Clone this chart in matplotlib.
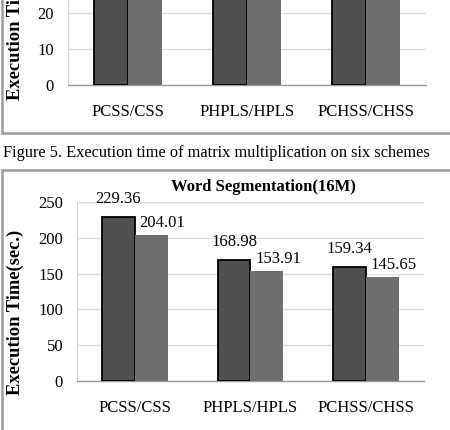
import matplotlib.pyplot as plt
from matplotlib.lines import Line2D

plt.rcParams['font.family'] = ['Liberation Serif', 'DejaVu Serif']

# data
schemes = ['PCSS/CSS', 'PHPLS/HPLS', 'PCHSS/CHSS']
mm_parallel = [27.5, 27.8, 27.2]      # matrix multiplication (cut off at top)
mm_serial = [26.9, 27.1, 26.6]
ws_parallel = [229.36, 168.98, 159.34]  # word segmentation 16M
ws_serial = [204.01, 153.91, 145.65]

W, H = 450, 430
fig = plt.figure(figsize=(W / 100, H / 100), dpi=100)
FS = 12


def px_axes(left, right, y0, px_per_unit, ymax):
    # y0 = pixel row of value 0, measured from top
    h = ymax * px_per_unit
    return fig.add_axes([left / W, (H - y0) / H, (right - left) / W, h / H])


def draw_bars(ax, a, b, ymax, step):
    x = range(len(schemes))
    bw = 0.285
    ax.bar([i - bw / 2 for i in x], a, bw, color='#505050', edgecolor='black',
           linewidth=1.3, zorder=3)
    ax.bar([i + bw / 2 for i in x], b, bw, color='#6f6f6f', linewidth=0, zorder=3)
    ax.set_xlim(-0.5, len(schemes) - 0.5)
    ax.set_ylim(0, ymax)
    ax.set_yticks(range(0, int(ymax) + 1, step))
    ax.set_xticks(list(x))
    ax.set_xticklabels(schemes, fontsize=FS)
    ax.tick_params(axis='both', length=0, labelsize=FS)
    ax.tick_params(axis='x', pad=14)
    ax.tick_params(axis='y', pad=10)
    ax.grid(axis='y', color='#dcdcdc', linewidth=0.9, zorder=0)
    for s in ['top', 'right']:
        ax.spines[s].set_visible(False)
    ax.spines['left'].set_color('#d0d0d0')
    ax.spines['bottom'].set_color('#9a9a9a')
    ax.spines['bottom'].set_linewidth(1.0)


# top chart (matrix multiplication, cropped)
ax1 = px_axes(68, 426, 85, 3.6, 30)
draw_bars(ax1, mm_parallel, mm_serial, 30, 10)
fig.text(15 / W, 1 - 17 / H, 'Execution Time(sec.)', rotation=90, fontsize=13.3,
         fontweight='bold', ha='center', va='center')

# caption
fig.text(3 / W, 1 - 153 / H,
         'Figure 5. Execution time of matrix multiplication on six schemes',
         fontsize=11.8, ha='left', va='center')

# bottom chart (word segmentation)
ax2 = px_axes(77, 424, 381, 0.716, 250)
draw_bars(ax2, ws_parallel, ws_serial, 250, 50)
fig.text(263 / W, 1 - 187 / H, 'Word Segmentation(16M)', fontsize=12,
         fontweight='bold', ha='center', va='center')
fig.text(15 / W, 1 - 312 / H, 'Execution Time(sec.)', rotation=90, fontsize=13.3,
         fontweight='bold', ha='center', va='center')
for i, (a, b) in enumerate(zip(ws_parallel, ws_serial)):
    ax2.annotate(f'{a:.2f}', (i - 0.1425, a), xytext=(0, 18),
                 textcoords='offset pixels', ha='center', va='center', fontsize=FS)
    ax2.annotate(f'{b:.2f}', (i + 0.1425, b), xytext=(11, 12),
                 textcoords='offset pixels', ha='center', va='center', fontsize=FS)

# page frames
fc = '#9c9c9c'
for xs, ys in [([2, 2], [0, 133]), ([2, W], [133, 133]),
               ([2, W], [170, 170]), ([2, 2], [170, H])]:
    fig.add_artist(Line2D([v / W for v in xs], [1 - v / H for v in ys],
                          color=fc, linewidth=1.8, transform=fig.transFigure))

fig.savefig('out.png', dpi=100)
